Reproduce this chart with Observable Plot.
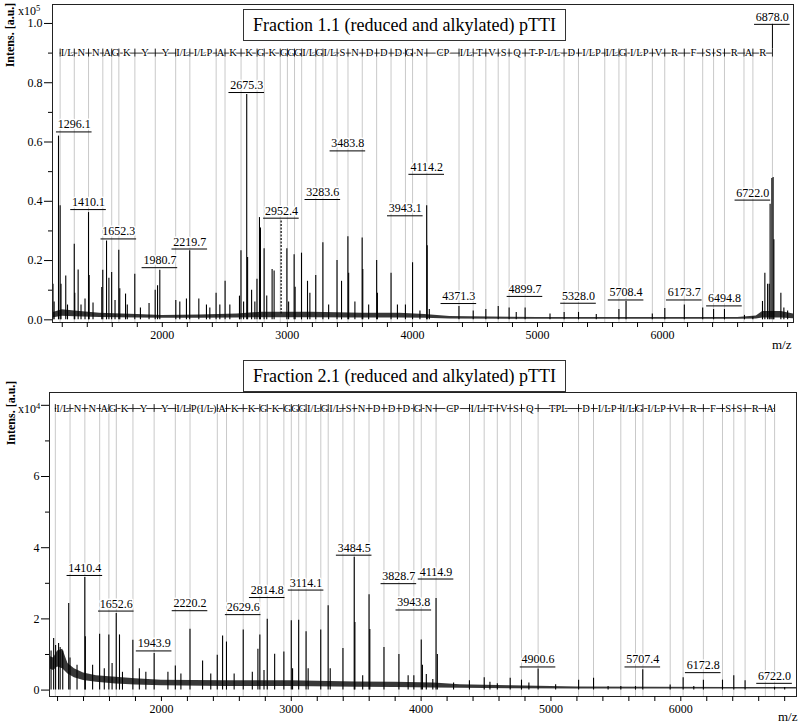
<!DOCTYPE html>
<html><head><meta charset="utf-8">
<script src="https://cdn.jsdelivr.net/npm/d3@7"></script>
<script src="https://cdn.jsdelivr.net/npm/@observablehq/plot@0.6"></script>
<style>
body{margin:0;background:#fff;font-family:"Liberation Serif","Times New Roman",serif;color:#000}
#wrap{position:relative;width:800px;height:725px;overflow:hidden;background:#fff}
.panel{position:absolute;left:0}
.title{position:absolute;left:243px;width:321px;height:30px;border:1px solid #333;background:#fff;font-size:18px;line-height:31px;text-align:center;white-space:nowrap}
.ylab{position:absolute;width:90px;height:14px;line-height:14px;text-align:center;font-weight:bold;font-size:12px;transform:rotate(-90deg);white-space:nowrap}
.exp{position:absolute;left:18px;font-size:12px;line-height:12px;white-space:nowrap}
.exp sup{font-size:8.5px;vertical-align:4px;line-height:0}
.mz{position:absolute;font-size:13px;line-height:14px}
</style>
</head><body>
<div id="wrap">
  <div id="p1" class="panel" style="top:0"></div>
  <div id="p2" class="panel" style="top:355px"></div>
  <div class="title" style="top:9px">Fraction 1.1 (reduced and alkylated) pTTI</div>
  <div class="title" style="top:360px">Fraction 2.1 (reduced and alkylated) pTTI</div>
  <div class="ylab" style="left:-35px;top:28px">Intens. [a.u.]</div>
  <div class="ylab" style="left:-34.5px;top:406px">Intens. [a.u.]</div>
  <div class="exp" style="top:5px">x10<sup>5</sup></div>
  <div class="exp" style="top:403px">x10<sup>4</sup></div>
  <div class="mz" style="left:772px;top:338px">m/z</div>
  <div class="mz" style="left:778px;top:710px">m/z</div>
</div>
<script>
// ---------- sequence ladder (m/z of fragment boundaries) ----------
const topLadderMz = [1183.0,1296.2,1410.3,1524.4,1595.4,1652.5,1780.7,1943.8,2107.0,2220.2,2430.5,2501.5,2629.7,2757.9,2814.9,2943.1,3000.2,3057.2,3114.3,3227.4,3284.5,3397.6,3484.7,3598.8,3713.9,3829.0,3944.1,4001.1,4115.2,4372.5,4485.7,4586.8,4685.9,4773.0,4901.1,5212.5,5327.6,5537.9,5651.1,5708.1,5918.4,6017.5,6173.7,6320.9,6408.0,6495.0,6651.2,6722.3,6878.5];
const topResidues = ["I/L","N","N","A","G","K","Y","Y","I/L","I/LP","A","K","K","G","K","G","G","G","I/L","G","I/L","S","N","D","D","D","G","N","CP","I/L","T","V","S","Q","T-P-I/L","D","I/LP","I/L","G","I/LP","V","R","F","S","S","R","A","R"];
const botLadderMz = [1183.0,1296.2,1410.3,1524.4,1595.4,1652.5,1780.7,1943.8,2107.0,2220.2,2430.5,2501.5,2629.7,2757.9,2814.9,2943.1,3000.2,3057.2,3114.3,3227.4,3284.5,3397.6,3484.7,3598.8,3713.9,3829.0,3944.1,4001.1,4115.2,4372.5,4485.7,4586.8,4685.9,4773.0,4901.1,5212.5,5327.6,5537.9,5651.1,5708.1,5918.4,6017.5,6173.7,6320.9,6408.0,6495.0,6651.2,6722.3];
const botResidues = ["I/L","N","N","A","G","K","Y","Y","I/L","P(I/L)","A","K","K","G","K","G","G","G","I/L","G","I/L","S","N","D","D","D","G","N","CP","I/L","T","V","S","Q","TPL","D","I/LP","I/L","G","I/LP","V","R","F","S","S","R","A"];

// ---------- top spectrum (x10^5) ----------
const topPeakMz  = [1126,1135,1170,1183,1190,1228,1242,1296,1300,1327,1350,1382,1410,1415,1446,1516,1524,1554,1573,1595,1622,1652,1660,1706,1720,1780,1825,1894,1943,1962,1980,2108,2140,2193,2219,2292,2353,2380,2430,2460,2502,2540,2617,2629,2650,2675,2682,2714,2740,2757,2777,2785,2814,2835,2878,2894,2996,3010,3054,3062,3113,3161,3180,3227,3284,3330,3397,3433,3484,3490,3540,3598,3603,3650,3714,3720,3829,3880,3944,4001,4060,4114,4118,4135,4372,4486,4587,4686,4773,4830,4901,5100,5213,5328,5470,5651,5708,5918,6018,6174,6321,6408,6495,6655,6722,6799,6818,6840,6853,6860,6874,6884,6890,6946,6970,7000];
const topPeakInt = [0.12,0.06,0.62,0.385,0.12,0.148,0.05,0.255,0.09,0.168,0.05,0.07,0.362,0.15,0.057,0.109,0.167,0.266,0.14,0.16,0.065,0.235,0.105,0.087,0.05,0.154,0.04,0.055,0.10,0.115,0.167,0.065,0.06,0.07,0.233,0.07,0.05,0.04,0.09,0.05,0.13,0.05,0.08,0.233,0.06,0.76,0.21,0.10,0.06,0.137,0.345,0.31,0.24,0.08,0.17,0.165,0.24,0.06,0.22,0.11,0.225,0.13,0.09,0.15,0.26,0.05,0.20,0.13,0.28,0.157,0.06,0.276,0.17,0.05,0.20,0.09,0.157,0.05,0.05,0.193,0.03,0.385,0.25,0.035,0.045,0.03,0.035,0.045,0.04,0.025,0.04,0.02,0.025,0.025,0.018,0.035,0.062,0.02,0.038,0.05,0.04,0.035,0.035,0.015,0.01,0.062,0.157,0.12,0.12,0.39,0.477,0.48,0.27,0.09,0.04,0.03];
const topDashMz = [2950];
const topDashInt = [0.334];
const topEnvMz = [1122,1200,1300,1500,1800,2000,2300,2600,2800,3200,3600,3900,4100,4300,5000,6000,6600,6750,6800,6950,7047];
const topEnvLo = [0.006,0.012,0.01,0.008,0.006,0.005,0.005,0.006,0.007,0.007,0.006,0.006,0.005,0.003,0.002,0.002,0.002,0.003,0.006,0.006,0.004];
const topEnvHi = [0.024,0.034,0.03,0.022,0.018,0.015,0.016,0.02,0.026,0.026,0.022,0.022,0.018,0.011,0.008,0.008,0.008,0.013,0.028,0.028,0.02];
const topLabelText = ["1296.1","1410.1","1652.3","1980.7","2219.7","2675.3","2952.4","3283.6","3483.8","3943.1","4114.2","4371.3","4899.7","5328.0","5708.4","6173.7","6494.8","6722.0","6878.0"];
const topLabelY = [0.634,0.372,0.273,0.176,0.239,0.767,0.343,0.406,0.57,0.351,0.491,0.055,0.079,0.056,0.067,0.067,0.047,0.404,0.997];

// ---------- bottom spectrum (x10^4) ----------
const botPeakMz  = [1150,1170,1185,1208,1220,1240,1286,1296,1350,1410,1414,1470,1524,1560,1595,1620,1652,1677,1700,1780,1830,1880,1944,2050,2107,2150,2220,2317,2380,2430,2471,2501,2560,2630,2700,2743,2758,2790,2815,2872,2943,3000,3010,3057,3114,3130,3227,3284,3300,3398,3485,3490,3550,3599,3605,3714,3829,3900,3944,4001,4010,4040,4090,4115,4125,4250,4372,4486,4530,4587,4686,4773,4830,4901,5036,5213,5328,5440,5538,5651,5707,5918,6018,6100,6174,6321,6408,6495,6722,6800];
const botPeakInt = [1.1,1.45,1.25,1.31,1.2,1.1,2.43,0.9,0.7,3.16,1.5,0.7,1.57,0.6,1.55,0.75,2.15,1.55,0.5,1.40,0.6,0.5,1.03,0.5,0.68,0.45,1.71,0.82,0.45,0.98,1.52,1.35,0.45,1.69,0.5,1.15,1.55,0.55,1.99,1.01,1.07,1.95,0.6,1.96,1.64,0.6,1.69,2.37,0.6,1.17,3.73,1.9,0.4,2.68,1.7,1.2,1.0,0.4,0.40,1.41,0.7,0.44,0.3,2.57,1.0,0.2,0.26,0.35,0.22,0.18,0.33,0.28,0.2,0.59,0.15,0.28,0.33,0.1,0.1,0.1,0.57,0.14,0.35,0.1,0.28,0.28,0.4,0.26,0.08,0.07];
const botEnvMz = [1138,1170,1200,1240,1280,1330,1400,1500,1650,1800,2000,2500,3000,3500,3800,4100,4300,4700,5200,5800,6400,6891];
const botEnvLo = [0.6,0.55,0.65,0.6,0.45,0.35,0.27,0.22,0.17,0.14,0.12,0.1,0.1,0.08,0.07,0.06,0.05,0.04,0.03,0.03,0.03,0.03];
const botEnvHi = [0.95,0.9,1.1,1.15,0.75,0.6,0.48,0.4,0.36,0.32,0.28,0.26,0.26,0.23,0.22,0.2,0.15,0.12,0.09,0.08,0.07,0.07];
const botLabelText = ["1410.4","1652.6","1943.9","2220.2","2629.6","2814.8","3114.1","3484.5","3828.7","3943.8","4114.9","4900.6","5707.4","6172.8","6722.0"];
const botLabelY = [3.22,2.22,1.10,2.23,2.12,2.60,2.81,3.79,2.99,2.25,3.12,0.65,0.65,0.49,0.19];

// ---------- axis ticks ----------
const topXMajor = [2000,3000,4000,5000,6000];
const topXMinor = [1200,1400,1600,1800,2200,2400,2600,2800,3200,3400,3600,3800,4200,4400,4600,4800,5200,5400,5600,5800,6200,6400,6600,6800,7000];
const topYMajor = [0,0.2,0.4,0.6,0.8,1.0];
const topYMinor = [0.1,0.3,0.5,0.7,0.9];
const botXMajor = [2000,3000,4000,5000,6000];
const botXMinor = [1200,1400,1600,1800,2200,2400,2600,2800,3200,3400,3600,3800,4200,4400,4600,4800,5200,5400,5600,5800,6200,6400,6600,6800];
const botYMajor = [0,2,4,6,8];
const botYMinor = [1,3,5,7];

function panel(o) {
  const W = 800;
  const plotW = W - o.ml - o.mr;
  const perPx = (o.xDomain[1] - o.xDomain[0]) / plotW;
  const hw = 17.8 * perPx;
  const segs = o.residues.map((r, i) => ({x1: o.ladder[i], x2: o.ladder[i + 1], xm: (o.ladder[i] + o.ladder[i + 1]) / 2, label: r}));
  const env = o.envMz.map((m, i) => ({mz: m, lo: o.envLo[i], hi: o.envHi[i]}));
  const peaks = o.peakMz.map((m, i) => ({mz: m, v: o.peakInt[i]}));
  const dash = (o.dashMz || []).map((m, i) => ({mz: m, v: o.dashInt[i]}));
  const labels = o.labelText.map((t, i) => ({t, mz: +t, y: o.labelY[i]}));
  const y0 = o.yDomain[0];
  const marks = [
    Plot.ruleX(o.ladder, {x: d => d, y1: y0, y2: o.rowY - o.tickH, stroke: "#c9c9c9", strokeWidth: 1}),
    Plot.areaY(env, {x: "mz", y1: "lo", y2: "hi", fill: "#222", fillOpacity: 0.9, curve: "linear"}),
    Plot.ruleX(peaks, {x: "mz", y1: 0, y2: "v", stroke: "#000", strokeWidth: 1.1}),
    Plot.ruleX(dash, {x: "mz", y1: 0.02, y2: "v", stroke: "#000", strokeWidth: 1.2, strokeDasharray: "2,1.5"}),
    Plot.ruleY(segs, {x1: "x1", x2: "x2", y: o.rowY, stroke: "#000", strokeWidth: 0.8}),
    Plot.text(segs, {x: "xm", y: o.rowY, text: "label", fontSize: 10.5, fill: "#000", stroke: "#fff", strokeWidth: 2.5}),
    Plot.ruleX(o.ladder, {x: d => d, y1: o.rowY - o.tickH, y2: o.rowY + o.tickH, stroke: "#000", strokeWidth: 0.9}),
    Plot.text(labels, {x: "mz", y: "y", text: "t", dy: -3.5, lineAnchor: "bottom", fontSize: 12, fill: "#000", stroke: "#fff", strokeWidth: 3}),
    Plot.ruleY(labels, {x1: d => d.mz - hw, x2: d => d.mz + hw, y: "y", stroke: "#000", strokeWidth: 1}),
    Plot.frame({stroke: "#222", strokeWidth: 1}),
    Plot.axisX({ticks: o.xMajor, tickSize: 5, tickPadding: 3, tickFormat: d3.format("d"), fontSize: 12, label: null}),
    Plot.axisX({ticks: o.xMinor, tickSize: 5, tickFormat: () => "", label: null}),
    Plot.axisY({ticks: o.yMajor, tickSize: 8, tickPadding: 2, tickFormat: o.yFmt, fontSize: 12, label: null}),
    Plot.axisY({ticks: o.yMinor, tickSize: 4, tickFormat: () => "", label: null})
  ];
  if (o.extra) marks.push(...o.extra);
  return Plot.plot({
    width: W, height: o.h,
    marginLeft: o.ml, marginRight: o.mr, marginTop: o.mt, marginBottom: o.mb,
    x: {domain: o.xDomain, label: null},
    y: {domain: o.yDomain, label: null},
    style: {fontFamily: "'Liberation Serif', 'Times New Roman', serif", fontSize: "12px", color: "#000", background: "transparent", overflow: "visible"},
    marks
  });
}

const topRowY = 0.90, topTickH = 0.0135;
document.getElementById("p1").append(panel({
  h: 355, ml: 52, mr: 7, mt: 4, mb: 33,
  xDomain: [1122, 7047], yDomain: [-0.009, 1.064],
  ladder: topLadderMz, residues: topResidues, rowY: topRowY, tickH: topTickH,
  peakMz: topPeakMz, peakInt: topPeakInt, dashMz: topDashMz, dashInt: topDashInt,
  envMz: topEnvMz, envLo: topEnvLo, envHi: topEnvHi,
  labelText: topLabelText, labelY: topLabelY,
  xMajor: topXMajor, xMinor: topXMinor, yMajor: topYMajor, yMinor: topYMinor,
  yFmt: d3.format(".1f"),
  extra: [Plot.ruleX([6878.5], {x: d => d, y1: topRowY + topTickH, y2: 0.997, stroke: "#000", strokeWidth: 1})]
}));

document.getElementById("p2").append(panel({
  h: 370, ml: 49, mr: 4, mt: 37, mb: 29,
  xDomain: [1138, 6891], yDomain: [-0.18, 8.36],
  ladder: botLadderMz, residues: botResidues, rowY: 7.91, tickH: 0.11,
  peakMz: botPeakMz, peakInt: botPeakInt,
  envMz: botEnvMz, envLo: botEnvLo, envHi: botEnvHi,
  labelText: botLabelText, labelY: botLabelY,
  xMajor: botXMajor, xMinor: botXMinor, yMajor: botYMajor, yMinor: botYMinor,
  yFmt: d => d === 8 ? "" : String(d)
}));
</script>
</body></html>
